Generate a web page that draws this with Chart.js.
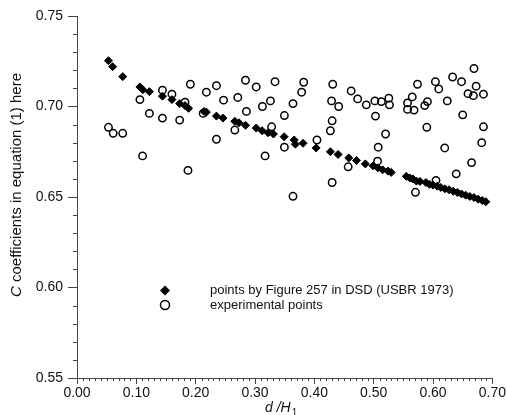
<!DOCTYPE html>
<html>
<head>
<meta charset="utf-8">
<script src="https://cdn.jsdelivr.net/npm/chart.js@4.4.1/dist/chart.umd.min.js"></script>
<style>
html,body{margin:0;padding:0;background:#fff;}
#wrap{width:507px;height:415px;position:relative;}
</style>
</head>
<body>
<div id="wrap"><canvas id="c" width="507" height="415"></canvas></div>
<script>
// ---- data ----
const seriesNames = ["points by Figure 257 in DSD (USBR 1973)", "experimental points"];
const xTickLabels = ["0.00","0.10","0.20","0.30","0.40","0.50","0.60","0.70"];
const yTickLabels = ["0.55","0.60","0.65","0.70","0.75"];

const figX = [0.053,0.060,0.077,0.106,0.111,0.122,0.144,0.160,0.173,0.182,0.188,0.214,0.218,0.235,0.246,0.266,0.273,0.284,0.302,0.312,0.322,0.331,0.349,0.366,0.368,0.381,0.403,0.427,0.440,0.458,0.471,0.486,0.499,0.507,0.515,0.524,0.5295,0.555,0.561,0.566,0.572,0.578,0.588,0.594,0.600,0.607,0.613,0.620,0.627,0.634,0.641,0.648,0.655,0.662,0.669,0.676,0.683,0.689];
const figY = [0.7253,0.7220,0.7165,0.7108,0.7093,0.7082,0.7057,0.7038,0.7016,0.7005,0.6990,0.6973,0.6969,0.6947,0.6936,0.6918,0.6910,0.6896,0.6881,0.6866,0.6855,0.6848,0.6833,0.6815,0.6792,0.6797,0.6771,0.6750,0.6735,0.6716,0.6702,0.6683,0.6672,0.6661,0.6650,0.6643,0.6636,0.6614,0.6605,0.6600,0.6588,0.6586,0.6580,0.6570,0.6566,0.6560,0.6553,0.6545,0.6540,0.6532,0.6525,0.6517,0.6510,0.6503,0.6497,0.6488,0.6480,0.6474];

const expX = [0.053,0.061,0.077,0.106,0.1105,0.122,0.144,0.144,0.160,0.173,0.182,0.187,0.191,0.2126,0.218,0.235,0.235,0.247,0.266,0.271,0.284,0.2855,0.302,0.3125,0.317,0.326,0.328,0.3337,0.3495,0.3495,0.364,0.364,0.3786,0.382,0.4044,0.427,0.430,0.429,0.431,0.430,0.441,0.457,0.462,0.473,0.4875,0.502,0.503,0.5065,0.5076,0.513,0.520,0.5255,0.5266,0.557,0.557,0.565,0.568,0.5704,0.5738,0.586,0.5895,0.5906,0.604,0.605,0.6097,0.6197,0.624,0.633,0.639,0.648,0.650,0.659,0.665,0.668,0.669,0.6726,0.682,0.685,0.685];
const expY = [0.6885,0.6852,0.6852,0.7038,0.6727,0.6962,0.7090,0.6936,0.7068,0.6925,0.7024,0.6647,0.7123,0.6962,0.7079,0.7115,0.6819,0.7035,0.6870,0.7050,0.7145,0.6973,0.7108,0.7000,0.6727,0.7031,0.6888,0.7137,0.6950,0.6775,0.7016,0.6504,0.7079,0.7134,0.6815,0.6866,0.6921,0.7031,0.7123,0.6580,0.7000,0.6667,0.7086,0.7042,0.7009,0.7031,0.6947,0.6698,0.6775,0.7027,0.6848,0.7046,0.7009,0.7020,0.6984,0.7053,0.6980,0.6526,0.7123,0.7005,0.6885,0.7027,0.7137,0.6592,0.7097,0.6771,0.7031,0.7163,0.6628,0.7137,0.6954,0.7071,0.6690,0.7060,0.7210,0.7112,0.6800,0.7068,0.6888];

const FONT = "'Liberation Sans', Arial, sans-serif";
const toPts = (xs, ys) => xs.map((x, i) => ({x: x, y: ys[i]}));

const minorTicks = {
  id: 'minorTicks',
  afterDraw(chart) {
    const ctx = chart.ctx;
    const xs = chart.scales.x, ys = chart.scales.y;
    ctx.save();
    ctx.strokeStyle = '#444';
    ctx.lineWidth = 1;
    ctx.beginPath();
    for (let i = 0; i <= 70; i++) {
      if (i % 10 === 0) continue;
      const px = Math.round(xs.getPixelForValue(i / 100)) + 0.5;
      ctx.moveTo(px, ys.bottom);
      ctx.lineTo(px, ys.bottom + 3);
    }
    for (let i = 55; i <= 75; i++) {
      if (i % 5 === 0) continue;
      const py = Math.round(ys.getPixelForValue(i / 100)) + 0.5;
      ctx.moveTo(xs.left, py);
      ctx.lineTo(xs.left - 4, py);
    }
    ctx.stroke();
    ctx.restore();
  }
};

const titlesAndLegend = {
  id: 'titlesAndLegend',
  afterDraw(chart) {
    const ctx = chart.ctx;
    ctx.save();
    ctx.fillStyle = '#111';
    // y title
    ctx.save();
    ctx.translate(21, 185);
    ctx.rotate(-Math.PI / 2);
    ctx.textBaseline = 'alphabetic';
    const italicC = 'italic 15px ' + FONT;
    const rest = '15px ' + FONT;
    ctx.font = italicC;
    const wC = ctx.measureText('C').width;
    ctx.font = rest;
    const restText = ' coefficients in equation (1) here';
    const wR = ctx.measureText(restText).width;
    const start = -(wC + wR) / 2;
    ctx.font = italicC;
    ctx.textAlign = 'left';
    ctx.fillText('C', start, 0);
    ctx.font = rest;
    ctx.fillText(restText, start + wC, 0);
    ctx.restore();
    // x title
    ctx.textAlign = 'left';
    ctx.textBaseline = 'alphabetic';
    ctx.font = 'italic 14px ' + FONT;
    const main = 'd /H';
    ctx.fillText(main, 265, 412);
    const wm = ctx.measureText(main).width;
    ctx.font = '10px ' + FONT;
    ctx.fillText('1', 265 + wm + 1, 416);
    // legend
    const ds = chart.data.datasets;
    ctx.font = '13px ' + FONT;
    ctx.textBaseline = 'middle';
    ctx.fillText(ds[0].label, 210, 290.5);
    ctx.fillText(ds[1].label, 210, 305);
    // diamond marker
    ctx.beginPath();
    const r = 5, cx = 165, cy = 290.5;
    ctx.moveTo(cx - r, cy); ctx.lineTo(cx, cy - r); ctx.lineTo(cx + r, cy); ctx.lineTo(cx, cy + r); ctx.closePath();
    ctx.fillStyle = '#000';
    ctx.fill();
    // circle marker
    ctx.beginPath();
    ctx.arc(165, 305, 4.5, 0, Math.PI * 2);
    ctx.strokeStyle = '#000';
    ctx.lineWidth = 1.5;
    ctx.stroke();
    ctx.restore();
  }
};

new Chart(document.getElementById('c'), {
  type: 'scatter',
  data: {
    datasets: [
      {
        label: seriesNames[0],
        data: toPts(figX, figY),
        pointStyle: 'rectRot',
        pointRadius: 4,
        pointHoverRadius: 4,
        backgroundColor: '#000',
        borderColor: '#000',
        borderWidth: 1
      },
      {
        label: seriesNames[1],
        data: toPts(expX, expY),
        pointStyle: 'circle',
        pointRadius: 3.7,
        pointHoverRadius: 3.7,
        backgroundColor: 'rgba(255,255,255,0)',
        borderColor: '#000',
        borderWidth: 1.5
      }
    ]
  },
  options: {
    responsive: false,
    animation: false,
    events: [],
    layout: { padding: { left: 0, top: 16, right: 14, bottom: 0 } },
    plugins: { legend: { display: false }, tooltip: { enabled: false }, title: { display: false } },
    scales: {
      x: {
        type: 'linear', min: 0, max: 0.7,
        afterFit: s => { s.height = 37; },
        afterBuildTicks: s => { s.ticks = xTickLabels.map(t => ({ value: parseFloat(t) })); },
        ticks: {
          callback: (v, i) => xTickLabels[i],
          font: { size: 14, family: FONT },
          color: '#111',
          padding: 1,
          maxRotation: 0,
          autoSkip: false
        },
        grid: { display: true, drawOnChartArea: false, drawTicks: true, tickLength: 6, color: '#444' },
        border: { display: true, color: '#444', width: 1 }
      },
      y: {
        type: 'linear', min: 0.55, max: 0.75,
        afterFit: s => { s.width = 77; },
        afterBuildTicks: s => { s.ticks = yTickLabels.map(t => ({ value: parseFloat(t) })); },
        ticks: {
          callback: (v, i) => yTickLabels[i],
          font: { size: 14, family: FONT },
          color: '#111',
          padding: 5,
          autoSkip: false
        },
        grid: { display: true, drawOnChartArea: false, drawTicks: true, tickLength: 9, color: '#444' },
        border: { display: true, color: '#444', width: 1 }
      }
    }
  },
  plugins: [minorTicks, titlesAndLegend]
});
</script>
</body>
</html>
